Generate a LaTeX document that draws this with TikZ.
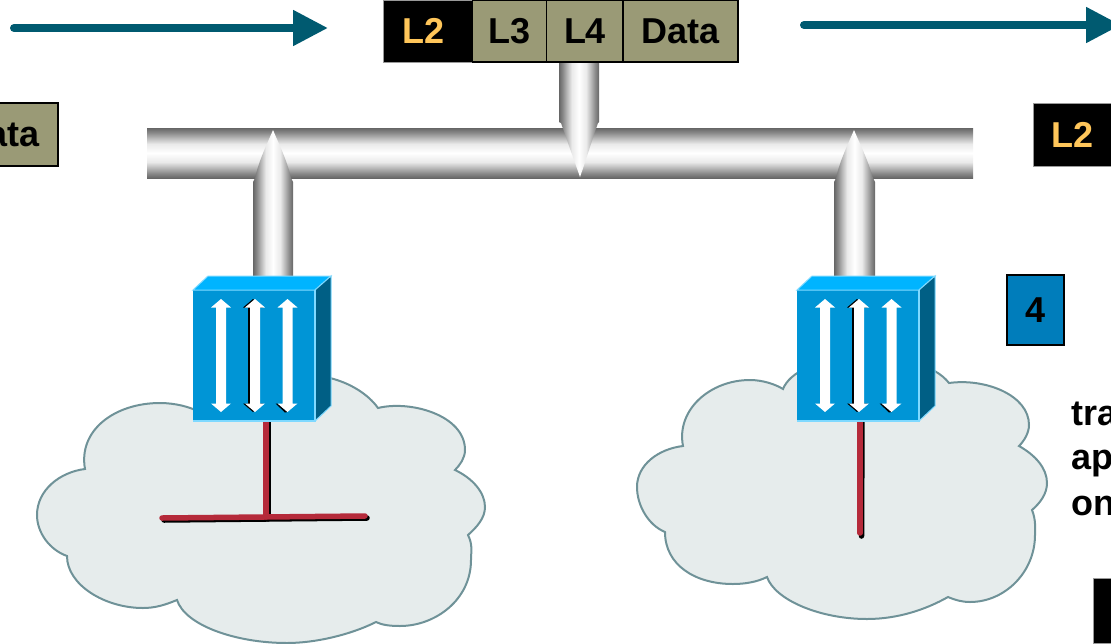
\documentclass[tikz,border=0pt]{standalone}
\usepackage{fontspec}
\setmainfont{Liberation Sans}
\usetikzlibrary{arrows.meta}
\definecolor{pA}{HTML}{666666}
\definecolor{pB}{HTML}{8C8C8C}
\definecolor{pC}{HTML}{B8B8B8}
\definecolor{pD}{HTML}{EAEAEA}
\pgfdeclarehorizontalshading{pipeH}{100bp}{color(0bp)=(pA); color(25bp)=(pA); color(30bp)=(pB); color(35bp)=(pC); color(41bp)=(pD); color(50bp)=(white); color(59bp)=(pD); color(65bp)=(pC); color(70bp)=(pB); color(75bp)=(pA); color(100bp)=(pA)}
\pgfdeclareverticalshading{pipeV}{100bp}{color(0bp)=(pA); color(25bp)=(pA); color(30bp)=(pB); color(35bp)=(pC); color(41bp)=(pD); color(50bp)=(white); color(59bp)=(pD); color(65bp)=(pC); color(70bp)=(pB); color(75bp)=(pA); color(100bp)=(pA)}
\definecolor{olive}{HTML}{9A9A76}
\definecolor{gold}{HTML}{FFC65A}
\definecolor{teal}{HTML}{005A70}
\definecolor{front}{HTML}{0095D6}
\definecolor{topf}{HTML}{00B4FF}
\definecolor{sidef}{HTML}{005F85}
\definecolor{edgef}{HTML}{7FD9FF}
\definecolor{cloudf}{HTML}{E6ECEC}
\definecolor{cloudl}{HTML}{6F9298}
\definecolor{redl}{HTML}{B52A3A}
\definecolor{numbox}{HTML}{007DBB}
\tikzset{
  x=1pt,y=-1pt,
  lbl/.style={font=\bfseries\fontsize{36}{40}\selectfont,inner sep=0pt,outer sep=0pt},
  pktbox/.style={lbl,draw=black,line width=1.5pt,fill=olive,text=black,minimum height=62pt},
  l2box/.style={lbl,draw=black!40,line width=.8pt,fill=black,text=gold,minimum height=62pt},
  flow/.style={teal,line width=8pt,line cap=round,-{Triangle[length=35pt,width=34pt]}},
  cloudshape/.style={fill=cloudf,draw=cloudl,line width=2pt,line join=miter},
  wire/.style={redl,line width=5.5pt,line cap=round},
  wireshadow/.style={black,line width=5.5pt,line cap=round},
  body/.style={font=\bfseries\fontsize{36}{45}\selectfont,inner sep=0pt,outer sep=0pt,anchor=base west},
  pics/dblarrow/.style={code={
    \fill[#1] (0,-56.5) -- (10,-48) -- (5,-48) -- (5,48) -- (10,48) -- (0,56.5) -- (-10,48) -- (-5,48) -- (-5,-48) -- (-10,-48) -- cycle;
  }},
  pics/switchbox/.style={code={
    \fill[front] (0,0) rectangle (122,131);
    \fill[topf,draw=edgef,line width=1pt] (0,0) -- (15,-14) -- (138,-14) -- (122,0) -- cycle;
    \fill[sidef,draw=edgef,line width=1pt] (122,0) -- (138,-14) -- (138,116) -- (122,131) -- cycle;
    \draw[edgef,line width=1.5pt] (122,0) -- (122,131) -- (0,131);
    \pic at (28,65.5) {dblarrow=white};
    \pic at (60,65.5) {dblarrow=black};
    \pic at (62,65.5) {dblarrow=white};
    \fill[black] (84.5,113.5) -- (82.5,113.5) -- (92,122.5) -- (94.5,122) -- cycle;
    \pic at (94.5,65.5) {dblarrow=white};
  }},
}
\begin{document}
\begin{tikzpicture}
\clip (0,0) rectangle (1111,643);
% clouds
\path[cloudshape] (85,469) .. controls (78,430) and (115,403) .. (160,403)
 .. controls (175,403) and (190,407) .. (197,411)
 .. controls (215,375) and (300,360) .. (330,378)
 .. controls (350,383) and (368,394) .. (378,408)
 .. controls (410,400) and (465,415) .. (465,450)
 .. controls (465,458) and (460,465) .. (455,470)
 .. controls (472,478) and (485,492) .. (485,507)
 .. controls (485,518) and (477,527) .. (468,535)
 .. controls (473,545) and (471,552) .. (471,560)
 .. controls (471,600) and (435,626) .. (400,626)
 .. controls (390,626) and (382,625) .. (376,622)
 .. controls (350,635) and (315,643) .. (287,643)
 .. controls (235,643) and (185,625) .. (177,600)
 .. controls (165,605) and (155,608) .. (143,608)
 .. controls (105,608) and (67,585) .. (67,556)
 .. controls (50,550) and (37,533) .. (37,515)
 .. controls (37,490) and (60,472) .. (85,469) -- cycle;
\path[cloudshape] (683,446) .. controls (676,410) and (710,380) .. (750,380)
 .. controls (762,380) and (775,384) .. (783,389)
 .. controls (790,372) and (815,360) .. (860,357)
 .. controls (900,355) and (935,365) .. (949,383)
 .. controls (985,378) and (1029,395) .. (1029,425)
 .. controls (1029,433) and (1024,441) .. (1019,446)
 .. controls (1035,455) and (1047,468) .. (1047,483)
 .. controls (1047,494) and (1040,503) .. (1032,510)
 .. controls (1036,520) and (1035,528) .. (1035,535)
 .. controls (1035,572) and (1005,602) .. (970,602)
 .. controls (962,602) and (955,600) .. (948,597)
 .. controls (925,610) and (897,619) .. (867,619)
 .. controls (820,619) and (775,600) .. (767,577)
 .. controls (757,582) and (745,584) .. (733,584)
 .. controls (695,584) and (665,565) .. (665,532)
 .. controls (648,525) and (637,505) .. (637,487)
 .. controls (637,465) and (658,449) .. (683,446) -- cycle;
% red segments
\coordinate (ja) at (266,415); \coordinate (jb) at (266,517);
\coordinate (la) at (162,518); \coordinate (lb) at (365,516);
\coordinate (ra) at (860,415); \coordinate (rb) at (860,533);
\draw[wireshadow] ([shift={(2,2)}]la) -- ([shift={(2,2)}]lb);
\draw[wireshadow] ([shift={(2,0)}]ja) -- ([shift={(2,2)}]jb);
\draw[wire] (ja) -- (jb);
\draw[wire] (la) -- (lb);
\draw[wireshadow] ([shift={(2,0)}]ra) -- ([shift={(1.5,3)}]rb);
\draw[wire] (ra) -- (rb);
% bus and pipes
\path[shading=pipeV] (147,128) rectangle (973,178);
\path[shading=pipeH] (253,280) -- (253,182) -- (255,178) .. controls (259,160) and (268,142) .. (273,130) .. controls (278,142) and (287,160) .. (291,178) -- (293,182) -- (293,280) -- cycle;
\path[shading=pipeH] (834,280) -- (834,182) -- (836,178) .. controls (840,160) and (849,142) .. (854,130) .. controls (859,142) and (868,160) .. (873,178) -- (875,182) -- (875,280) -- cycle;
\path[shading=pipeH] (559,60) -- (559,122) -- (561,123) .. controls (567,140) and (574,160) .. (580,177) .. controls (586,160) and (592,140) .. (598,123) -- (599,122) -- (599,60) -- cycle;
% switches
\pic at (193,290) {switchbox};
\pic at (797,290) {switchbox};
% flow arrows
\coordinate (fa1) at (14,28); \coordinate (fa2) at (328,28);
\coordinate (fb1) at (804,25); \coordinate (fb2) at (1121,25);
\draw[flow] (fa1) -- (fa2);
\draw[flow] (fb1) -- (fb2);
% packet
\node[l2box,minimum width=89pt] (pl2) at (427.5,31) {\hspace*{-8pt}L2};
\node[pktbox,minimum width=74pt] (pl3) at (509.5,31) {L3};
\node[pktbox,minimum width=77pt] (pl4) at (585,31) {L4};
\node[pktbox,minimum width=115pt] (pdata) at (680.5,31) {Data};
% side boxes
\node[pktbox,minimum width=115pt,minimum height=63pt] (ldata) at (0.5,134.5) {\raisebox{-2pt}{Data}};
\node[l2box,minimum width=78pt,minimum height=63pt] (rl2) at (1072,134.5) {\raisebox{-2pt}{L2}};
\node[lbl,draw=black,line width=1.5pt,fill=numbox,minimum width=57pt,minimum height=70pt] (num) at (1035.5,310) {\raisebox{-3pt}{4}};
% text at right
\node[body] (t1) at (1071,425) {tra};
\node[body] (t2) at (1071,469) {ap};
\node[body] (t3) at (1071,515) {on};
% black box
\node[fill=black,draw=black!40,line width=.8pt,inner sep=0pt,minimum width=40pt,minimum height=65pt,anchor=north west] (bk) at (1093,578) {};
\end{tikzpicture}
\end{document}
